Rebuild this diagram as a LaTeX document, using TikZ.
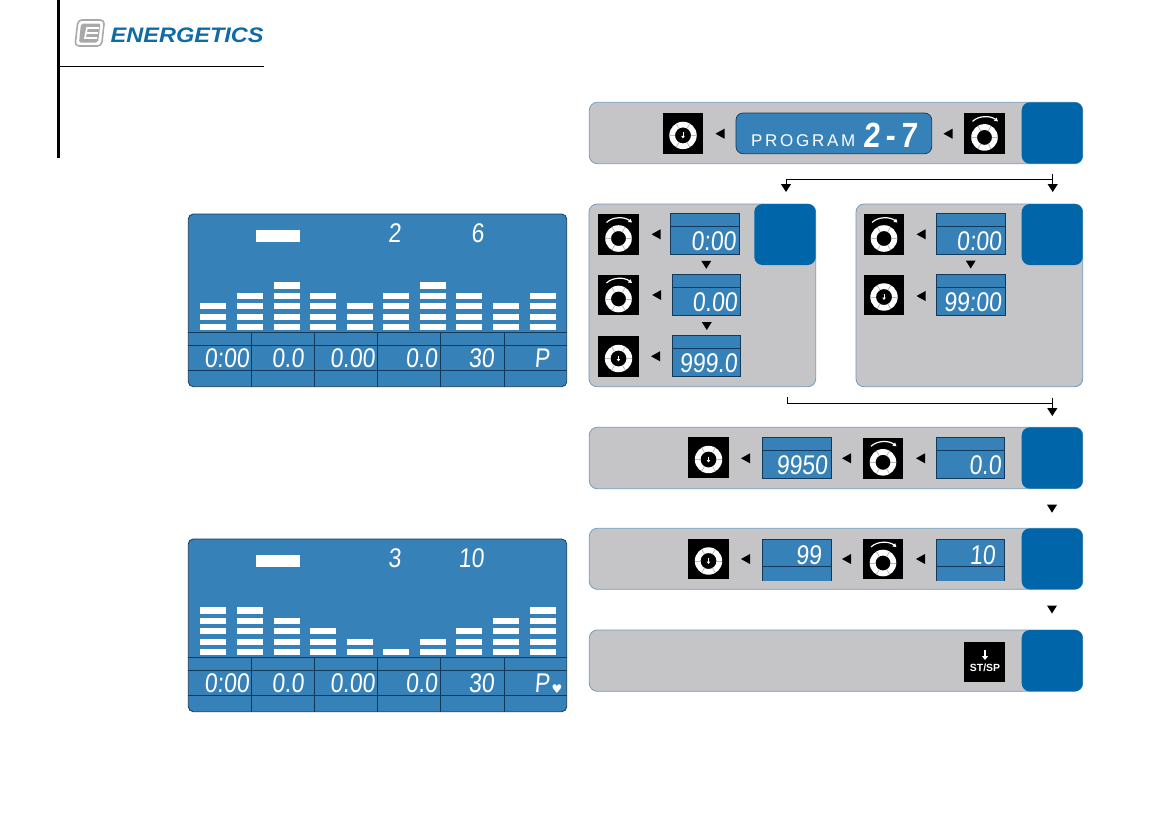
\documentclass[tikz,border=0pt]{standalone}
\usepackage{fontspec}
\usetikzlibrary{arrows.meta}
\setmainfont{Liberation Sans}
\newfontfamily\segfont[FakeStretch=0.85,FakeSlant=0.08]{Liberation Sans}
\newfontfamily\lcdfont[LetterSpace=16]{Liberation Sans}
\newfontfamily\symfont{DejaVu Sans}
\definecolor{lcdblue}{HTML}{3781B9}
\definecolor{lcdline}{HTML}{12385A}
\definecolor{tabblue}{HTML}{0065A9}
\definecolor{panelgray}{HTML}{C5C5C7}
\definecolor{panelline}{HTML}{6D9CBE}
\definecolor{logoblue}{HTML}{0E6BA8}
\definecolor{logogray}{HTML}{A9A9A9}
\tikzset{
  flowline/.style={draw=black,line width=1pt},
  tipdown/.style={-{Triangle[length=8pt,width=10pt]}},
  segdigit/.style={text=white,inner sep=0pt,anchor=base east,font=\segfont\fontsize{27}{27}\selectfont},
  pressknob/.pic={
    \fill[black] (-20.3,-20.3) rectangle (20.3,20.3);
    \fill[white,even odd rule] (0,2) circle (13.7) circle (8);
    \foreach \angle in {0,60,...,300} {
      \draw[gray!55,line width=0.8pt] ([shift={(0,2)}]\angle:8) -- ([shift={(0,2)}]\angle:13.7);
    }
    \draw[white,line width=0.8pt,-{Triangle[length=2.5pt,width=3.5pt]}] (0,-1) -- (0,5);
  },
  turnknob/.pic={
    \fill[black] (-20.3,-20.3) rectangle (20.3,20.3);
    \fill[white,even odd rule] (0,4) circle (13.3) circle (7.5);
    \foreach \angle in {0,60,...,300} {
      \draw[gray!55,line width=0.8pt] ([shift={(0,4)}]\angle:7.5) -- ([shift={(0,4)}]\angle:13.3);
    }
    \draw[white,line width=1.2pt,-{Triangle[length=3.5pt,width=4pt]}] (-12,-12) .. controls (-6,-18) and (6,-18) .. (13.5,-12);
  }
}
\begin{document}
\begin{tikzpicture}[x=1pt,y=-1pt]
\useasboundingbox (0,0) rectangle (1157,839);

% Header
\fill[black] (57.3,0) rectangle (60,158);
\draw[black,line width=0.9pt] (60,66.3) -- (264,66.3);
\draw[logogray,line width=1.6pt,rounded corners=4pt] (78,20) -- (104.5,20) -- (101.5,46) -- (75,46) -- cycle;
\fill[logogray,rounded corners=2pt] (81,23.5) -- (100.5,23.5) -- (98,42.5) -- (79,42.5) -- cycle;
\draw[white,line width=1.6pt] (99,28) -- (87,28) -- (85,38) -- (97,38);
\draw[white,line width=1.6pt] (86,33) -- (98,33);
\node[text=logoblue,inner sep=0pt,anchor=base west,xscale=1.12] (logoText) at (110.5,42) {\fontsize{21}{21}\selectfont\bfseries\itshape ENERGETICS};

% Panels: left, top, right, bottom, tab left, tab bottom
\foreach \xa/\ya/\xb/\yb/\tx/\tb in {589.3/102.3/1082.7/163.7/1021.7/163.7,
  589/204/815.7/386.7/754.3/265, 856/204/1082.7/386.7/1021.7/265,
  589.3/427.3/1082.7/488.7/1021.7/488.7, 589.3/528.3/1082.7/589.3/1021.7/589.3,
  589.3/630/1082.7/691.3/1021.7/691.3} {
  \draw[fill=panelgray,draw=panelline,line width=0.8pt,rounded corners=8pt] (\xa,\ya) rectangle (\xb,\yb);
  \fill[tabblue,rounded corners=8pt] (\tx,\ya) rectangle (\xb,\tb);
}

% Program display
\draw[fill=lcdblue,draw=lcdline,line width=0.7pt,rounded corners=7pt] (736,113) rectangle (931.7,153.7);
\node[text=white,inner sep=0pt,anchor=base west] (programText) at (751,146.7) {\lcdfont\fontsize{17}{17}\selectfont PROGRAM};
\node[segdigit] (programNum) at (917,147) {\fontsize{35}{35}\selectfont\bfseries 2\kern5pt-\kern5pt7};

% Small displays
\foreach \name/\xa/\ya/\val in {timeA/670.7/213.3/0:00, distA/672/274.3/0.00, limitA/672/335.3/999.0,
  timeB/936.3/213.3/0:00, limitB/936.3/274.3/99:00, limitC/762.3/437.3/9950, startC/936/437.3/0.0} {
  \draw[fill=lcdblue,draw=lcdline,line width=0.8pt] (\xa,\ya) rectangle ++(68.6,41.2);
  \draw[lcdline,line width=0.8pt] (\xa,\ya+13.4) -- ++(68.6,0);
  \node[segdigit] (\name) at (\xa+65.3,\ya+37) {\val};
}

% Open displays (no bottom edge)
\foreach \name/\xa/\val in {limitD/762.3/99, startD/936/10} {
  \fill[lcdblue] (\xa,539) rectangle ++(68.6,41.7);
  \draw[lcdline,line width=0.8pt] (\xa,580.7) -- (\xa,539) -- (\xa+68.6,539) -- (\xa+68.6,580.7);
  \draw[lcdline,line width=0.8pt] (\xa,566.3) -- ++(68.6,0);
  \node[segdigit] (\name) at (\xa+59.4,564) {\val};
}

% Knobs
\foreach \x/\y in {683/133.4, 618.5/356.5, 884/295, 708.5/457.5, 708.5/559} {
  \pic at (\x,\y) {pressknob};
}
\foreach \x/\y in {984.5/133.4, 618.5/234.5, 618.5/295, 884/234.5, 883/458.3, 883/559} {
  \pic at (\x,\y) {turnknob};
}

% Start key
\fill[black] (964,642) rectangle (1005,682);
\draw[white,line width=1.3pt,-{Triangle[length=4pt,width=6pt]}] (985,650) -- (985,660);
\node[text=white,inner sep=0pt] (startKey) at (985,667.5) {\fontsize{10.4}{10.4}\selectfont\bfseries ST/SP};

% Small arrows
\foreach \x/\y in {720/133.7, 948/133.7, 656/234.3, 656.7/295, 655.5/356.3, 921/234.3, 921/296,
  745.5/458.3, 846.5/458.3, 920.5/458.3, 745.5/559, 846.5/559, 920.5/559} {
  \fill[black] (\x+4.5,\y-5) -- (\x+4.5,\y+5) -- (\x-4.5,\y) -- cycle;
}
\foreach \x/\y in {706.3/264.8, 706.8/326, 970.7/264.5, 1052/508.7, 1052/609.5} {
  \fill[black] (\x-5,\y-4) -- (\x+5,\y-4) -- (\x,\y+4) -- cycle;
}

% Connectors
\coordinate (splitTop) at (1052.7,174);
\coordinate (splitCorner) at (1052.7,179.3);
\coordinate (splitLeft) at (786,179.3);
\coordinate (splitTipR) at (1052.7,192);
\coordinate (splitTipL) at (786,192);
\draw[flowline,tipdown] (splitTop) -- (splitTipR);
\draw[flowline,tipdown] (splitCorner) -- (splitLeft) -- (splitTipL);
\coordinate (joinLeft) at (787.5,397);
\coordinate (joinBend) at (787.5,403.7);
\coordinate (joinTop) at (1052.3,397.7);
\coordinate (joinCorner) at (1052.3,403.7);
\coordinate (joinTip) at (1052.3,416);
\draw[flowline] (joinLeft) -- (joinBend) -- (joinCorner);
\draw[flowline,tipdown] (joinTop) -- (joinTip);

% Program screens
\foreach \dy/\scr/\numa/\numb in {0/A/2/6, 325/B/3/10} {
  \draw[fill=lcdblue,draw=lcdline,line width=0.8pt,rounded corners=5pt] (188.3,214+\dy) rectangle (566.7,386.7+\dy);
  \fill[white] (256,230+\dy) rectangle (300,242+\dy);
  \draw[lcdline,line width=0.8pt] (188.3,332.7+\dy) -- (566.7,332.7+\dy);
  \draw[lcdline,line width=0.8pt] (188.3,345+\dy) -- (566.7,345+\dy);
  \draw[lcdline,line width=0.8pt] (188.3,370.3+\dy) -- (566.7,370.3+\dy);
  \foreach \x in {251.3,314.7,377.7,440.7,504} {
    \draw[lcdline,line width=0.8pt] (\x,332.7+\dy) -- (\x,386.7+\dy);
  }
  \node[segdigit] (level\scr) at (401,242.7+\dy) {\numa};
  \node[segdigit] (segment\scr) at (484,242.7+\dy) {\numb};
  \foreach \tname/\x/\val in {time/249.3/0:00, dist/304/0.0, energy/375/0.00, speed/437.7/0.0, rpm/494.3/30, pulse/550/P} {
    \node[segdigit] (\tname\scr) at (\x,367.7+\dy) {\val};
  }
}
\node[text=white,inner sep=0pt] (heartB) at (557,689) {\symfont\fontsize{12}{12}\selectfont ♥};

% Bars
\foreach \x/\numa/\numb in {200/3/5, 237/4/5, 273.5/5/4, 310/4/3, 347/3/2, 383/4/1, 420/5/2, 456/4/3, 493/3/4, 529.5/4/5} {
  \foreach \r in {1,...,\numa} {
    \fill[white] (\x,324-10.4*\r+10.4) rectangle ++(26.3,6.2);
  }
  \foreach \r in {1,...,\numb} {
    \fill[white] (\x,649-10.4*\r+10.4) rectangle ++(26.3,6.2);
  }
}

\end{tikzpicture}
\end{document}
